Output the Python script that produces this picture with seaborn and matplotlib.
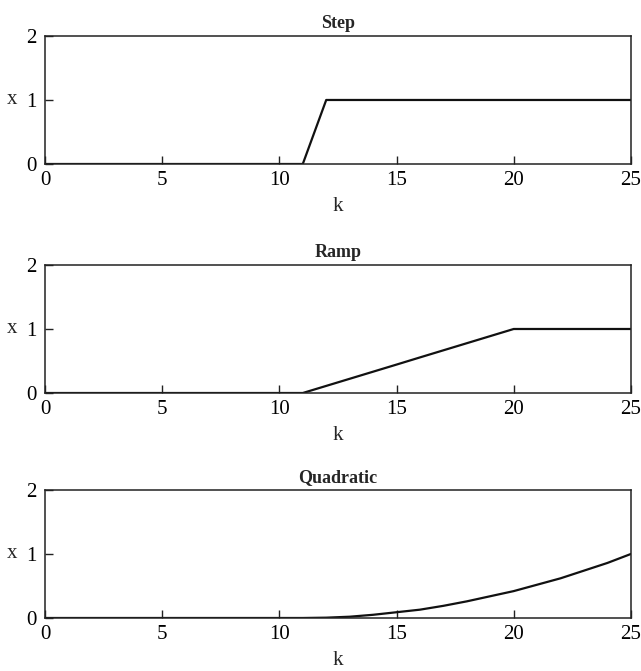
import matplotlib
matplotlib.use("Agg")
import matplotlib.pyplot as plt
import seaborn as sns
import pandas as pd

k = list(range(26))
step = [0]*12 + [1]*14
ramp = [0]*12 + [0.111, 0.222, 0.333, 0.444, 0.556, 0.667, 0.778, 0.889, 1.0] + [1]*5
quad = [0]*12 + [0.005, 0.02, 0.05, 0.09, 0.13, 0.19, 0.26, 0.34, 0.42, 0.52, 0.62, 0.74, 0.86, 1.0]
titles = ["Step", "Ramp", "Quadratic"]
series = [step, ramp, quad]
xticks = [0, 5, 10, 15, 20, 25]
yticks = [0, 1, 2]

sns.set_theme(style="white")
plt.rcParams["font.family"] = ["Liberation Serif", "DejaVu Serif"]

fig = plt.figure(figsize=(6.41, 6.71), dpi=100)
bottoms = [0.7556, 0.4143, 0.079]
for b, title, vals in zip(bottoms, titles, series):
    ax = fig.add_axes([0.0702, b, 0.914, 0.1908])
    df = pd.DataFrame({"k": k, "x": vals})
    sns.lineplot(data=df, x="k", y="x", ax=ax, color="#111111", linewidth=1.6)
    ax.set_xlim(0, 25)
    ax.set_ylim(0, 2)
    ax.set_xticks(xticks)
    ax.set_yticks(yticks)
    ax.tick_params(direction="in", length=6, width=1.0, colors="#222222",
                   labelsize=15, labelcolor="black", top=False, right=False,
                   bottom=True, left=True)
    ax.tick_params(axis="x", pad=5)
    ax.tick_params(axis="y", pad=6)
    for s in ax.spines.values():
        s.set_color("#222222")
        s.set_linewidth(1.1)
    ax.set_title(title, fontsize=13, fontweight="bold", pad=6)
    ax.set_xlabel("k", fontsize=15, labelpad=5)
    ax.set_ylabel("x", fontsize=15, rotation=0, labelpad=10, va="center")
    ax.grid(False)

fig.savefig("out.png", dpi=100)
